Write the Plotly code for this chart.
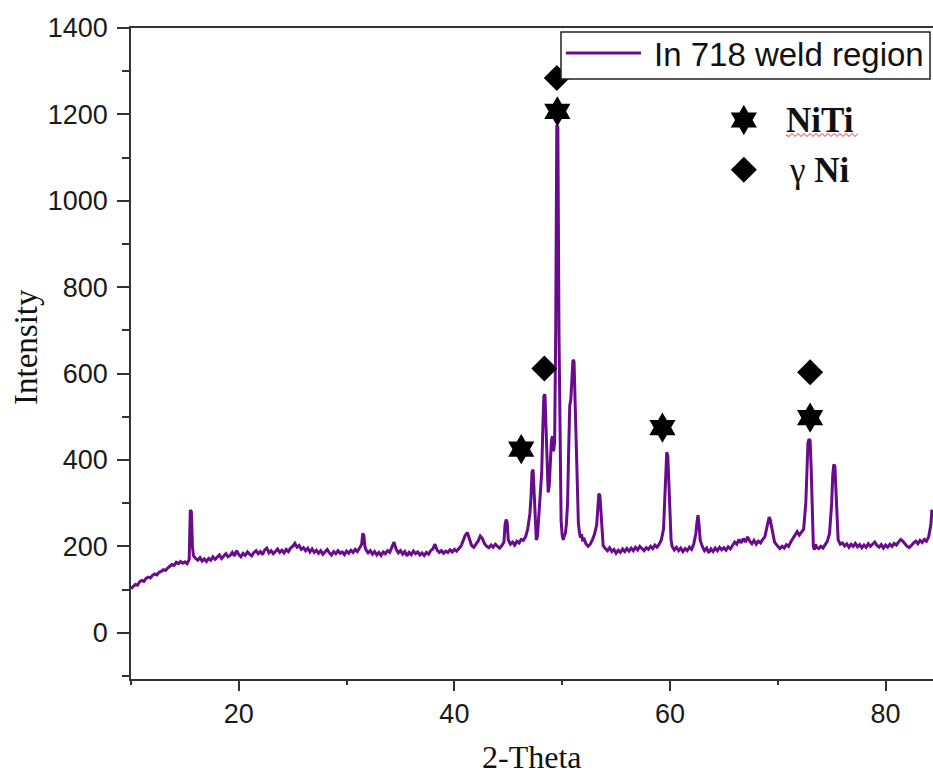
import plotly.graph_objects as go

# ---- data ----
two_theta = [
    10.0, 10.2, 10.4, 10.6, 10.8, 11.0, 11.2, 11.4, 11.6, 11.8, 12.0, 12.2, 12.4, 12.6, 12.8,
    13.0, 13.2, 13.4, 13.6, 13.8, 14.0, 14.2, 14.4, 14.6, 14.8, 15.0, 15.2, 15.4, 15.5, 15.6,
    15.7, 15.8, 16.0, 16.2, 16.4, 16.6, 16.8, 17.0, 17.2, 17.4, 17.6, 17.8, 18.0, 18.2, 18.4,
    18.6, 18.8, 19.0, 19.2, 19.4, 19.6, 19.8, 20.0, 20.2, 20.4, 20.6, 20.8, 21.0, 21.2, 21.4,
    21.6, 21.8, 22.0, 22.2, 22.4, 22.6, 22.8, 23.0, 23.2, 23.4, 23.6, 23.8, 24.0, 24.2, 24.4,
    24.6, 24.8, 25.0, 25.2, 25.4, 25.6, 25.8, 26.0, 26.2, 26.4, 26.6, 26.8, 27.0, 27.2, 27.4,
    27.6, 27.8, 28.0, 28.2, 28.4, 28.6, 28.8, 29.0, 29.2, 29.4, 29.6, 29.8, 30.0, 30.2, 30.4,
    30.6, 30.8, 31.0, 31.2, 31.4, 31.5, 31.6, 31.7, 31.8, 32.0, 32.2, 32.4, 32.6, 32.8, 33.0,
    33.2, 33.4, 33.6, 33.8, 34.0, 34.2, 34.4, 34.6, 34.8, 35.0, 35.2, 35.4, 35.6, 35.8, 36.0,
    36.2, 36.4, 36.6, 36.8, 37.0, 37.2, 37.4, 37.6, 37.8, 38.0, 38.2, 38.4, 38.6, 38.8, 39.0,
    39.2, 39.4, 39.6, 39.8, 40.0, 40.2, 40.4, 40.6, 40.8, 41.0, 41.2, 41.4, 41.6, 41.8, 42.0,
    42.2, 42.4, 42.6, 42.8, 43.0, 43.2, 43.4, 43.6, 43.8, 44.0, 44.2, 44.4, 44.6, 44.7, 44.8,
    44.9, 45.0, 45.2, 45.4, 45.6, 45.8, 46.0, 46.2, 46.4, 46.6, 46.8, 47.0, 47.1, 47.2, 47.3,
    47.4, 47.5, 47.6, 47.7, 47.8, 47.9, 48.0, 48.1, 48.2, 48.3, 48.4, 48.5, 48.6, 48.7, 48.8,
    48.9, 49.0, 49.1, 49.2, 49.3, 49.4, 49.5, 49.6, 49.7, 49.8, 49.9, 50.0, 50.1, 50.2, 50.3,
    50.4, 50.5, 50.6, 50.7, 50.8, 50.9, 51.0, 51.1, 51.2, 51.3, 51.4, 51.5, 51.6, 51.7, 51.8,
    51.9, 52.0, 52.2, 52.4, 52.6, 52.8, 53.0, 53.2, 53.3, 53.4, 53.5, 53.6, 53.7, 53.8, 54.0,
    54.2, 54.4, 54.6, 54.8, 55.0, 55.2, 55.4, 55.6, 55.8, 56.0, 56.2, 56.4, 56.6, 56.8, 57.0,
    57.2, 57.4, 57.6, 57.8, 58.0, 58.2, 58.4, 58.6, 58.8, 59.0, 59.2, 59.4, 59.5, 59.6, 59.7,
    59.8, 59.9, 60.0, 60.1, 60.2, 60.4, 60.6, 60.8, 61.0, 61.2, 61.4, 61.6, 61.8, 62.0, 62.2,
    62.4, 62.5, 62.6, 62.7, 62.8, 63.0, 63.2, 63.4, 63.6, 63.8, 64.0, 64.2, 64.4, 64.6, 64.8,
    65.0, 65.2, 65.4, 65.6, 65.8, 66.0, 66.2, 66.4, 66.6, 66.8, 67.0, 67.2, 67.4, 67.6, 67.8,
    68.0, 68.2, 68.4, 68.6, 68.8, 69.0, 69.2, 69.3, 69.5, 69.7, 70.0, 70.2, 70.4, 70.6, 70.8,
    71.0, 71.2, 71.4, 71.6, 71.8, 72.0, 72.2, 72.4, 72.6, 72.7, 72.8, 72.9, 73.0, 73.1, 73.2,
    73.3, 73.4, 73.5, 73.6, 73.8, 74.0, 74.2, 74.4, 74.6, 74.8, 74.9, 75.0, 75.1, 75.2, 75.3,
    75.4, 75.5, 75.6, 75.8, 76.0, 76.2, 76.4, 76.6, 76.8, 77.0, 77.2, 77.4, 77.6, 77.8, 78.0,
    78.2, 78.4, 78.6, 78.8, 79.0, 79.2, 79.4, 79.6, 79.8, 80.0, 80.2, 80.4, 80.6, 80.8, 81.0,
    81.2, 81.4, 81.6, 81.8, 82.0, 82.2, 82.4, 82.6, 82.8, 83.0, 83.2, 83.4, 83.6, 83.8, 84.0,
    84.2, 84.3,
]
intensity = [
    102, 108, 112, 110, 118, 121, 119, 126, 129, 127, 133, 136, 134, 140, 142,
    146, 144, 150, 154, 158, 156, 163, 160, 165, 161, 164, 160, 170, 284, 280,
    200, 178, 172, 168, 174, 166, 171, 165, 172, 168, 176, 170, 175, 180, 172,
    177, 183, 176, 179, 186, 178, 190, 181, 176, 184, 179, 187, 182, 178, 186,
    190, 183, 188, 181, 192, 196, 185, 190, 183, 188, 194, 186, 191, 185, 193,
    188, 196, 200, 207, 198, 202, 193, 197, 190, 196, 187, 194, 186, 191, 184,
    190, 182, 188, 193, 185, 180, 188, 183, 190, 184, 187, 181, 189, 184, 191,
    186, 193, 188, 196, 205, 230, 226, 200, 192, 185, 190, 182, 188, 180, 186,
    179, 187, 183, 190, 186, 197, 210, 193, 185, 190, 182, 188, 178, 186, 181,
    189, 183, 187, 180, 185, 179, 186, 182, 190, 194, 205, 191, 186, 190, 184,
    189, 186, 192, 187, 193, 189, 195, 200, 212, 225, 232, 214, 202, 198, 204,
    212, 224, 218, 206, 200, 197, 203, 198, 205, 200, 196, 202, 210, 250, 262,
    255, 215, 205, 210, 203, 212, 208, 216, 214, 222, 240, 275, 310, 372, 378,
    330, 262, 215, 222, 260, 300, 320, 370, 470, 548, 552, 470, 380, 325, 340,
    400, 445, 455, 420, 440, 700, 1175, 1170, 700, 400, 260, 225, 215, 225, 230,
    255, 300, 420, 525, 540, 600, 632, 628, 520, 395, 300, 255, 232, 220, 228,
    212, 220, 206, 200, 205, 215, 228, 250, 290, 322, 318, 270, 220, 202, 195,
    190, 197, 188, 193, 184, 191, 186, 194, 188, 195, 189, 196, 190, 198, 192,
    200, 194, 190, 197, 193, 200, 195, 203, 198, 205, 215, 240, 300, 360, 418,
    410, 330, 260, 215, 200, 192, 198, 190, 196, 188, 195, 190, 198, 193, 205,
    230, 255, 272, 250, 215, 200, 190, 196, 185, 194, 188, 196, 190, 198, 192,
    197, 191, 199, 194, 202, 210, 205, 216, 208, 218, 210, 222, 212, 206, 214,
    205, 212, 208, 216, 222, 245, 268, 262, 232, 210, 200, 195, 200, 196, 204,
    200, 210, 218, 228, 234, 226, 232, 240, 300, 372, 440, 448, 445, 380, 280,
    200, 192, 205, 198, 195, 200, 196, 204, 212, 230, 260, 300, 365, 390, 385,
    330, 250, 215, 205, 208, 201, 206, 198, 205, 200, 207, 199, 204, 197, 203,
    198, 206, 200, 204, 210, 202, 198, 204, 196, 203, 198, 205, 200, 207, 203,
    210, 216, 212, 206, 200, 197, 203, 208, 212, 206, 214, 209, 216, 212, 222,
    250, 285,
]

niti_x = [46.2, 49.55, 59.3, 73.0]
niti_y = [425, 1207, 475, 498]
gni_x = [48.35, 49.5, 73.0]
gni_y = [612, 1284, 603]

key_x = [66.85]
niti_key_y = [1187]
gni_key_y = [1072]

x_range = [10, 84.4]
y_range = [-107, 1400]
y_ticks = [0, 200, 400, 600, 800, 1000, 1200, 1400]
x_ticks = [20, 40, 60, 80]

line_color = "#6a0a8c"
axis_color = "#333333"
sans = "Arial, Liberation Sans, sans-serif"
serif = "Times New Roman, Liberation Serif, serif"

fig = go.Figure()
fig.add_trace(go.Scatter(
    x=two_theta, y=intensity, mode="lines", name="In 718 weld region",
    line=dict(color=line_color, width=3), showlegend=False,
))
fig.add_trace(go.Scatter(
    x=niti_x, y=niti_y, mode="markers", name="NiTi",
    marker=dict(symbol="hexagram", size=23, color="black"), showlegend=False,
))
fig.add_trace(go.Scatter(
    x=gni_x, y=gni_y, mode="markers", name="γ Ni",
    marker=dict(symbol="diamond", size=20, color="black"), showlegend=False,
))
fig.add_trace(go.Scatter(
    x=key_x, y=niti_key_y, mode="markers",
    marker=dict(symbol="hexagram", size=23, color="black"), showlegend=False,
))
fig.add_trace(go.Scatter(
    x=key_x, y=gni_key_y, mode="markers",
    marker=dict(symbol="diamond", size=20, color="black"), showlegend=False,
))

W, H = 933, 774
L, R, T, B = 131, 0, 28, 95
pw, ph = W - L - R, H - T - B


def px(xp):
    return (xp - L) / pw


def py(yp):
    return (H - B - yp) / ph


# manual legend box
shapes = [
    dict(type="rect", xref="paper", yref="paper", x0=px(561), x1=px(930), y0=py(79), y1=py(32),
         line=dict(color="#222", width=1.5), fillcolor="white", layer="above"),
    dict(type="line", xref="paper", yref="paper", x0=px(566), x1=px(641), y0=py(53), y1=py(53),
         line=dict(color=line_color, width=3), layer="above"),
]
# red squiggle under "NiTi"
path = "M {} {}".format(px(786), py(135))
k = 0
xx = 786
while xx < 858:
    xx += 3
    k += 1
    path += " L {} {}".format(px(xx), py(135 + (1.5 if k % 2 else -1.5)))
shapes.append(dict(type="path", xref="paper", yref="paper", path=path,
                   line=dict(color="#e03030", width=1)))

annotations = [
    dict(xref="paper", yref="paper", x=px(652), y=py(54), text="In 718 weld region",
         showarrow=False, xanchor="left", yanchor="middle",
         font=dict(family=sans, size=33, color="#111")),
    dict(x=70.6, y=1187, text="<b>NiTi</b>", showarrow=False, xanchor="left", yanchor="middle",
         font=dict(family=serif, size=35, color="#111")),
    dict(x=70.85, y=1070, text="γ <b>Ni</b>", showarrow=False, xanchor="left", yanchor="middle",
         font=dict(family=serif, size=35, color="#111")),
    dict(xref="paper", yref="paper", x=0.5, y=py(757), text="2-Theta", showarrow=False,
         xanchor="center", yanchor="middle", font=dict(family=serif, size=32, color="#111")),
    dict(xref="paper", yref="paper", x=px(26), y=py(347), text="Intensity", showarrow=False,
         textangle=-90, xanchor="center", yanchor="middle",
         font=dict(family=serif, size=33, color="#111")),
]

fig.update_layout(
    width=W, height=H,
    margin=dict(l=L, r=R, t=T, b=B, pad=0),
    paper_bgcolor="white", plot_bgcolor="white",
    shapes=shapes, annotations=annotations,
    xaxis=dict(
        range=x_range, tickvals=x_ticks, ticks="outside", ticklen=10, tickwidth=1.5,
        tickcolor=axis_color, showline=True, linecolor=axis_color, linewidth=1.5,
        mirror=True, showgrid=False, zeroline=False,
        tickfont=dict(family=sans, size=27, color="#1a1a1a"),
        minor=dict(dtick=10, tick0=0, ticks="outside", ticklen=4, tickwidth=1.5,
                   tickcolor=axis_color, showgrid=False),
    ),
    yaxis=dict(
        range=y_range, tickvals=y_ticks, ticks="outside", ticklen=12, tickwidth=1.5,
        tickcolor=axis_color, showline=True, linecolor=axis_color, linewidth=1.5,
        mirror=False, showgrid=False, zeroline=False, ticklabelstandoff=4,
        tickfont=dict(family=sans, size=27, color="#1a1a1a"),
        minor=dict(dtick=100, tick0=0, ticks="outside", ticklen=7, tickwidth=1.5,
                   tickcolor=axis_color, showgrid=False),
    ),
)

fig.write_html(
    "out.html",
    config={"displayModeBar": False},
    post_script="document.body.style.margin='0';document.body.style.overflow='hidden';",
)
